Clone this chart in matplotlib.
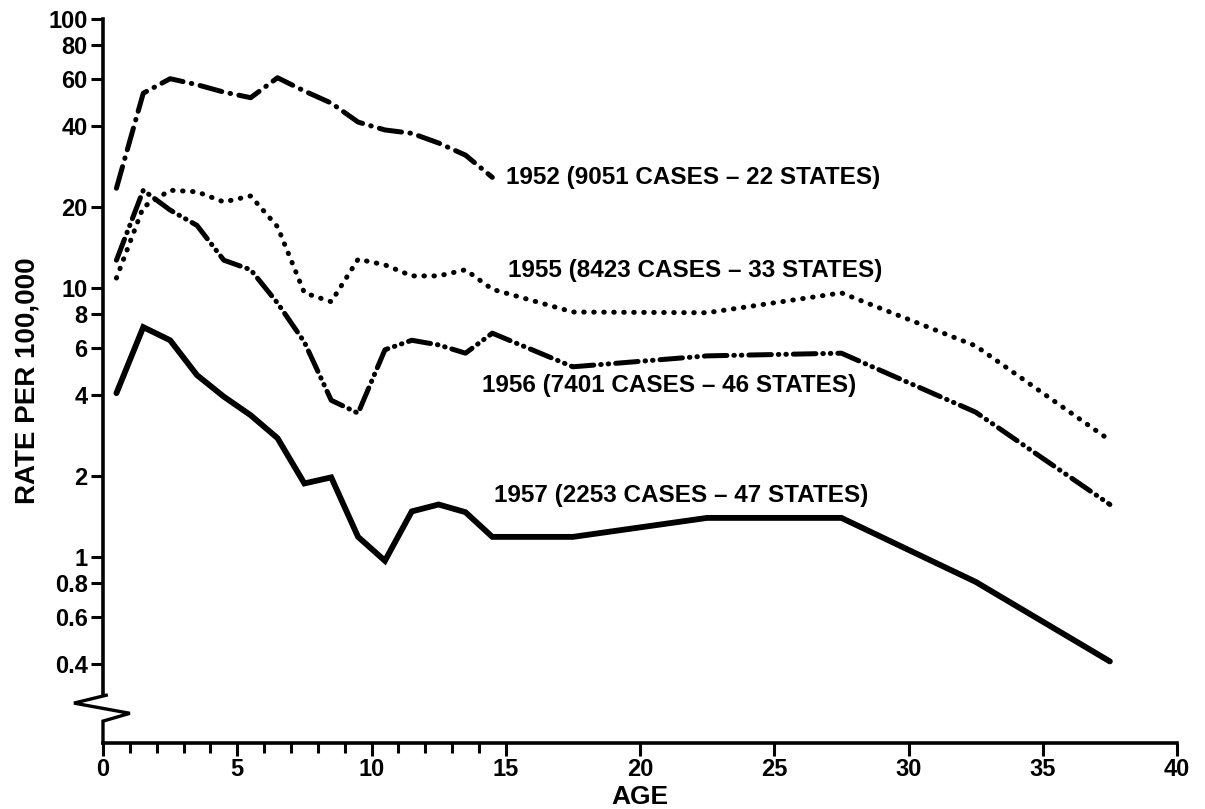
import matplotlib
matplotlib.use('Agg')
import matplotlib.pyplot as plt
from matplotlib.lines import Line2D

# age group midpoints (years)
ages = [0.5, 1.5, 2.5, 3.5, 4.5, 5.5, 6.5, 7.5, 8.5, 9.5, 10.5, 11.5, 12.5, 13.5, 14.5,
        17.5, 22.5, 27.5, 32.5, 37.5]
ages_1952 = ages[:15]

# rate per 100,000
rate_1952 = [23.5, 53, 60, 57, 53.5, 51, 60.5, 54, 48.7, 41.4, 38.7, 37.6, 34.6, 31.2, 25.8]
rate_1955 = [10.9, 20, 23.1, 22.8, 20.9, 22.0, 16.9, 9.6, 8.9, 12.8, 12.2, 11.1, 11.1, 11.7, 9.9,
             8.15, 8.1, 9.6, 6.1, 2.72]
rate_1956 = [12.7, 23.1, 19.5, 17.1, 12.7, 11.7, 8.8, 6.3, 3.83, 3.43, 5.9, 6.4, 6.15, 5.73, 6.8,
             5.1, 5.6, 5.73, 3.46, 1.57]
rate_1957 = [4.07, 7.16, 6.4, 4.75, 3.95, 3.37, 2.77, 1.88, 1.98, 1.19, 0.97, 1.48, 1.57, 1.47, 1.19,
             1.19, 1.40, 1.40, 0.81, 0.41]

labels = ['1952 (9051 CASES \u2013 22 STATES)',
          '1955 (8423 CASES \u2013 33 STATES)',
          '1956 (7401 CASES \u2013 46 STATES)',
          '1957 (2253 CASES \u2013 47 STATES)']

y_ticks = [0.4, 0.6, 0.8, 1, 2, 4, 6, 8, 10, 20, 40, 60, 80, 100]
y_ticklabels = ['0.4', '0.6', '0.8', '1', '2', '4', '6', '8', '10', '20', '40', '60', '80', '100']
x_ticks = [0, 5, 10, 15, 20, 25, 30, 35, 40]
x_minor = [1, 2, 3, 4, 6, 7, 8, 9, 11, 12, 13, 14]

plt.rcParams['font.family'] = ['Liberation Sans', 'DejaVu Sans']
plt.rcParams['font.weight'] = 'bold'
plt.rcParams['axes.labelweight'] = 'bold'

fig = plt.figure(figsize=(12.05, 8.09), dpi=100)
ax = fig.add_axes([103 / 1205, 66 / 809, 1074 / 1205, 724 / 809])

lw = 3.6
ax.plot(ages_1952, rate_1952, color='black', lw=lw,
        linestyle=(0, (4.5, 1.7, 0.1, 1.7)), dash_capstyle='round')
ax.plot(ages, rate_1955, color='black', lw=lw,
        linestyle=(0, (0.1, 1.9)), dash_capstyle='round')
ax.plot(ages, rate_1956, color='black', lw=lw,
        linestyle=(0, (4.5, 1.4, 0.1, 1.4, 0.1, 1.4)), dash_capstyle='round')
ax.plot(ages, rate_1957, color='black', lw=4.2, solid_capstyle='round',
        solid_joinstyle='miter')

fs_lab = 17.5
ax.text(15.0, 25.7, labels[0], fontsize=fs_lab, va='center', ha='left')
ax.text(15.1, 11.66, labels[1], fontsize=fs_lab, va='center', ha='left')
ax.text(14.1, 4.33, labels[2], fontsize=fs_lab, va='center', ha='left')
ax.text(14.55, 1.70, labels[3], fontsize=fs_lab, va='center', ha='left')

ax.set_yscale('log')
ax.set_xlim(0, 40)
ax.set_ylim(0.204, 100)
ax.set_yticks(y_ticks)
ax.set_yticklabels(y_ticklabels)
ax.minorticks_off()
ax.set_xticks(x_ticks)
ax.set_xticks(x_minor, minor=True)
ax.tick_params(axis='both', which='major', direction='out', length=9, width=2.2,
               labelsize=17, pad=2)
ax.tick_params(axis='x', which='minor', direction='out', length=7, width=2.2)

for s in ['top', 'right']:
    ax.spines[s].set_visible(False)
ax.spines['bottom'].set_linewidth(2.6)
ax.spines['left'].set_linewidth(2.6)
ax.spines['left'].set_bounds(0.307, 100)

# axis break on the y axis
tr = ax.get_yaxis_transform()
zig = Line2D([0.003, -0.027, 0.025, 0.0, 0.0], [0.307, 0.287, 0.263, 0.246, 0.204],
             transform=tr, color='black', lw=2.4, clip_on=False, solid_joinstyle='miter')
ax.add_line(zig)

ax.set_xlabel('AGE', fontsize=19, labelpad=3)
ax.set_ylabel('RATE PER 100,000', fontsize=20, labelpad=6)

fig.savefig('out.png', dpi=100)
